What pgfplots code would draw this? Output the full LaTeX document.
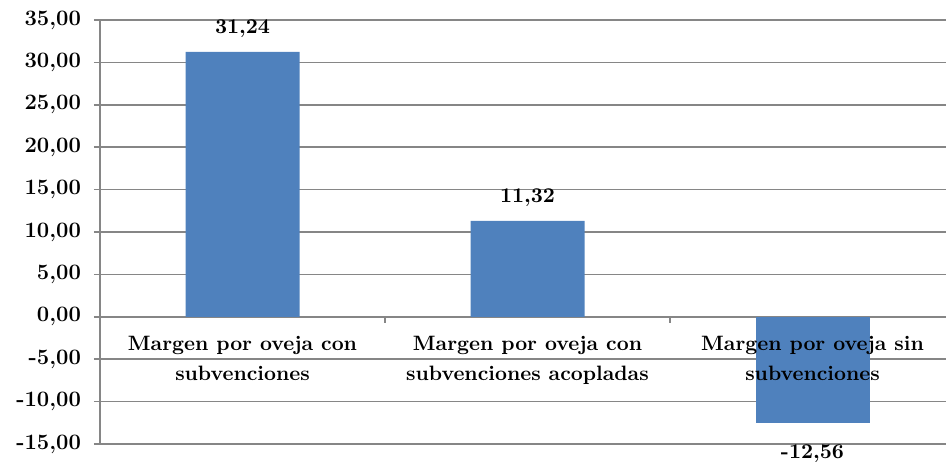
\documentclass[border=0pt]{standalone}
\usepackage{pgfplots}
\pgfplotsset{compat=1.18}
\usetikzlibrary{calc}
\definecolor{barblue}{HTML}{4F81BD}
\definecolor{gridgray}{HTML}{868686}
\tikzset{catlabel/.style={align=center, anchor=north, yshift=-6pt,
  font=\fontsize{10.4}{15}\selectfont\bfseries}}
\begin{document}
\begin{tikzpicture}
\begin{axis}[
    scale only axis,
    width=423pt, height=212pt,
    xmin=-0.5, xmax=2.4684,
    ymin=-15, ymax=35,
    ytick={-15,-10,...,35},
    axis x line*=middle,
    axis y line*=left,
    axis line style={gridgray, line width=0.8pt},
    ymajorgrids,
    grid style={gridgray, line width=0.8pt},
    tick style={gridgray, line width=0.8pt},
    tick align=outside,
    major tick length=3pt,
    xtick={0.5,1.5},
    xticklabels={},
    yticklabel style={font=\fontsize{11}{12}\selectfont\bfseries, xshift=-3pt},
    /pgf/number format/fixed,
    /pgf/number format/fixed zerofill,
    /pgf/number format/precision=2,
    /pgf/number format/use comma,
    /pgf/number format/assume math mode=true,
    ybar,
    bar width=0.4,
    bar shift=0pt,
    nodes near coords,
    nodes near coords align={vertical},
    every node near coord/.append style={font=\fontsize{10.5}{12}\selectfont\bfseries, black},
    clip=false,
]
\addplot[fill=barblue, draw=none,
  every node near coord/.append style={inner ysep=7pt}]
  coordinates {(0,31.24) (1,11.32)};
\addplot[fill=barblue, draw=none,
  every node near coord/.append style={inner ysep=10.5pt}]
  coordinates {(2,-12.56)};
\node[catlabel] at (axis cs:0,0) {Margen por oveja con\\subvenciones};
\node[catlabel] at (axis cs:1,0) {Margen por oveja con\\subvenciones acopladas};
\node[catlabel] at (axis cs:2,0) {Margen por oveja sin\\subvenciones};
\end{axis}
\pgfresetboundingbox
\path ($(current axis.south west)+(-50pt,-8.5pt)$) rectangle ($(current axis.north east)+(0pt,10pt)$);
\end{tikzpicture}
\end{document}
